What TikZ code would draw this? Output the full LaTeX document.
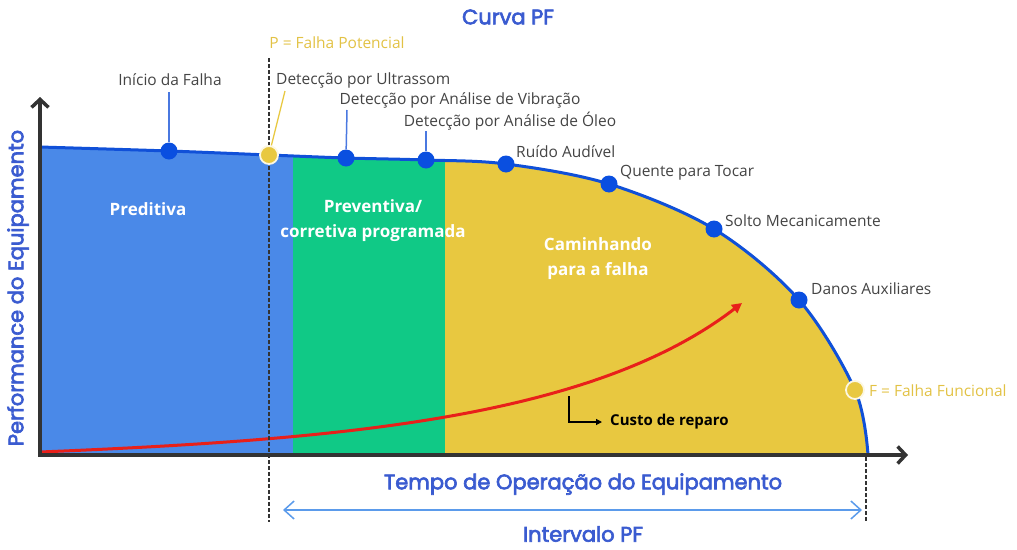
\documentclass[tikz,border=0pt]{standalone}
\usepackage{fontspec}
\setmainfont{Open Sans}
\newfontfamily\pop[FakeBold=3]{Poppins}
\usetikzlibrary{arrows.meta}
\definecolor{cblue}{HTML}{4A89E8}
\definecolor{cgreen}{HTML}{10C986}
\definecolor{cyel}{HTML}{E8C840}
\definecolor{cline}{HTML}{1050D8}
\definecolor{cdot}{HTML}{0A4FE0}
\definecolor{clead}{HTML}{4A78E0}
\definecolor{ctitle}{HTML}{3A5BD0}
\definecolor{ctxt}{HTML}{444444}
\definecolor{cptxt}{HTML}{E2C245}
\definecolor{carr}{HTML}{5B9BEB}
\definecolor{cred}{HTML}{E8201A}
\definecolor{caxis}{HTML}{333333}
\tikzset{
  bdot/.style={circle,fill=cdot,inner sep=0pt,minimum size=17pt},
  ydot/.style={circle,fill=cyel,draw=white!85!cyel,line width=1.8pt,inner sep=0pt,minimum size=18pt},
  lbl/.style={text=ctxt,font=\fontsize{15.5}{17}\selectfont,inner sep=0pt},
  plbl/.style={text=cptxt,font=\fontsize{15.5}{17}\selectfont,inner sep=0pt},
  zone/.style={text=white,font=\fontsize{17}{25}\selectfont\bfseries,align=center,inner sep=0pt},
  ttl/.style={text=ctitle,font=\pop\fontsize{21}{24}\selectfont,inner sep=0pt},
  lead/.style={clead,line width=1.5pt},
  axis/.style={caxis,line width=3.5pt,-{Straight Barb[length=8pt,width=17pt,line width=3.5pt]}},
  vdash/.style={caxis,line width=2.5pt,dash pattern=on 3.5pt off 2.5pt},
}
\begin{document}
\begin{tikzpicture}[x=1pt,y=-1pt]
\useasboundingbox (0,0) rectangle (1017,549);
\begin{scope}
  \clip (40,455) -- plot[smooth,tension=0.55] coordinates {(40,147) (169,151) (269,155) (346,158) (426,160) (506,164) (609,184) (714,229) (799,300) (855,390) (868,455)} -- cycle;
  \fill[cblue] (40,140) rectangle (293,456);
  \fill[cgreen] (293,140) rectangle (445,456);
  \fill[cyel] (445,140) rectangle (880,456);
\end{scope}
% region labels
\node[zone] (zp) at (148,209) {Preditiva};
\node[zone] (zv) at (373,221) {Preventiva/\\corretiva programada};
\node[zone] (zc) at (598,259) {Caminhando\\para a falha};
% cost curve
\coordinate (c0) at (40,452);
\coordinate (c1) at (742,303);
\draw[cred,line width=3pt,-{Triangle[length=10pt,width=10pt]}] (c0) .. controls (330,440) and (590,420) .. (c1);
% performance curve
\draw[cline,line width=3pt] plot[smooth,tension=0.55] coordinates {(40,147) (169,151) (269,155) (346,158) (426,160) (506,164) (609,184) (714,229) (799,300) (855,390) (868,455)};
% axes
\coordinate (o) at (40,455);
\coordinate (ytip) at (40,97);
\coordinate (xtip) at (908,455);
\coordinate (ox) at (38.25,455);
\draw[axis] (o) -- (ytip);
\draw[axis] (ox) -- (xtip);
% dashed lines
\coordinate (pd1) at (269,58);
\coordinate (pd2) at (269,522);
\coordinate (fd1) at (866,457);
\coordinate (fd2) at (866,522);
\draw[vdash] (pd1) -- (pd2);
\draw[vdash] (fd1) -- (fd2);
% dots
\node[bdot] (d1) at (169,151) {};
\node[ydot] (dp) at (269,155) {};
\node[bdot] (d2) at (346,158) {};
\node[bdot] (d3) at (426,160) {};
\node[bdot] (d4) at (506,164) {};
\node[bdot] (d5) at (609,184) {};
\node[bdot] (d6) at (714,229) {};
\node[bdot] (d7) at (799,300) {};
\node[ydot] (df) at (855,390) {};
% labels
\node[lbl] (l1) at (170,80) {Início da Falha};
\node[lbl,anchor=west] (l2) at (276,80) {Detecção por Ultrassom};
\node[lbl] (l3) at (460,100) {Detecção por Análise de Vibração};
\node[lbl] (l4) at (510,121) {Detecção por Análise de Óleo};
\node[lbl,anchor=west] (l5) at (516,152) {Ruído Audível};
\node[lbl,anchor=west] (l6) at (620,173) {Quente para Tocar};
\node[lbl,anchor=west] (l7) at (725,221) {Solto Mecanicamente};
\node[lbl,anchor=west] (l8) at (811,289) {Danos Auxiliares};
\node[plbl,anchor=west] (l9) at (869,391) {F = Falha Funcional};
\node[plbl] (lp) at (337,43) {P = Falha Potencial};
% leaders
\coordinate (a1) at (169,92);
\coordinate (a2) at (285,91);
\coordinate (a3) at (347,110);
\coordinate (a4) at (426,131);
\draw[lead] (a1) -- (d1);
\draw[cyel,line width=1.3pt] (a2) -- (dp);
\draw[lead] (a3) -- (d2);
\draw[lead] (a4) -- (d3);
% cost label
\coordinate (k0) at (569,396);
\coordinate (k1) at (569,422);
\node[font=\fontsize{15}{17}\selectfont\bfseries,anchor=west,inner sep=0pt] (cost) at (610,422) {Custo de reparo};
\draw[black,line width=1.2pt,-{Triangle[length=6pt,width=6pt]}] (k0) -- (k1) -- ([xshift=-8pt]cost.west);
% titles
\node[ttl] (t0) at (508,17) {Curva PF};
\node[ttl] (t1) at (583,484) {Tempo de Operação do Equipamento};
\node[ttl] (t2) at (583,534) {Intervalo PF};
\node[ttl,rotate=90] (ty) at (18,288) {Performance do Equipamento};
% interval arrow
\coordinate (i0) at (283,510);
\coordinate (i1) at (862,510);
\draw[carr,line width=1.5pt,{Straight Barb[length=10pt,width=18pt,line width=1.5pt]}-{Straight Barb[length=10pt,width=18pt,line width=1.5pt]}] (i0) -- (i1);
\end{tikzpicture}
\end{document}
